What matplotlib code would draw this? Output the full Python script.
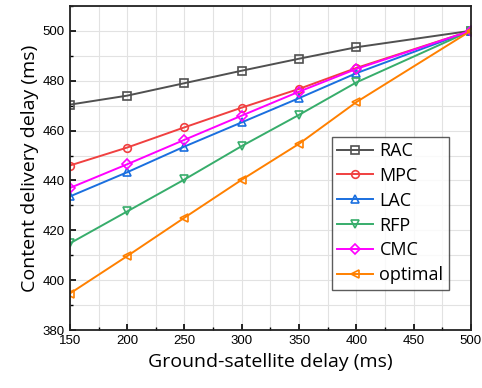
import matplotlib
matplotlib.use("Agg")
import matplotlib.pyplot as plt
from matplotlib.ticker import MultipleLocator

x = [150, 200, 250, 300, 350, 400, 500]
rac = [470.4, 474.0, 479.0, 484.0, 488.8, 493.4, 500.0]
mpc = [446.0, 453.2, 461.3, 469.2, 476.7, 485.1, 500.0]
lac = [433.6, 443.3, 453.6, 463.3, 473.0, 483.0, 500.0]
rfp = [414.8, 427.6, 440.4, 453.8, 466.3, 479.3, 500.0]
cmc = [437.0, 446.5, 456.3, 466.0, 475.6, 484.7, 500.0]
optimal = [394.7, 409.7, 425.1, 440.3, 454.7, 471.4, 500.0]

series = [
    ("RAC", rac, "#505050", "s"),
    ("MPC", mpc, "#f04040", "o"),
    ("LAC", lac, "#1a6fdf", "^"),
    ("RFP", rfp, "#37ad6b", "v"),
    ("CMC", cmc, "#ff00ff", "D"),
    ("optimal", optimal, "#ff8000", "<"),
]

fig = plt.figure(figsize=(4.82, 3.88), dpi=100)
ax = fig.add_axes([0.145, 0.149, 0.832, 0.836])

for name, vals, col, mk in series:
    ax.plot(x, vals, color=col, marker=mk, markersize=5.5 if mk != "D" else 5,
            markerfacecolor="none", markeredgecolor=col, markeredgewidth=1.2,
            linewidth=1.4, label=name)

ax.set_xlim(150, 500)
ax.set_ylim(380, 510)
ax.xaxis.set_major_locator(MultipleLocator(50))
ax.xaxis.set_minor_locator(MultipleLocator(25))
ax.yaxis.set_major_locator(MultipleLocator(20))
ax.yaxis.set_minor_locator(MultipleLocator(10))
ax.grid(True, which="both", color="#e2e2e2", linewidth=0.8)
ax.set_axisbelow(True)
ax.tick_params(which="both", direction="in", top=False, right=False)
ax.tick_params(which="major", length=4, width=1.2, labelsize=9.5)
ax.tick_params(which="minor", length=2.5, width=1.0)
for lab in ax.get_xticklabels() + ax.get_yticklabels():
    lab.set_family("Liberation Sans")
for s in ax.spines.values():
    s.set_linewidth(1.3)
    s.set_color("#222222")

ax.set_xlabel("Ground-satellite delay (ms)", fontsize=14, family="Open Sans", labelpad=4)
ax.set_ylabel("Content delivery delay (ms)", fontsize=14, family="Open Sans", labelpad=3)

leg = ax.legend(loc="lower right", bbox_to_anchor=(0.945, 0.125), prop={"family": "Open Sans", "size": 13},
                frameon=True, fancybox=False, edgecolor="#333333", handlelength=2.0,
                borderpad=0.3, labelspacing=0.38, handletextpad=0.35, borderaxespad=0)
leg.get_frame().set_linewidth(1.0)

fig.savefig("out.png", dpi=100)
